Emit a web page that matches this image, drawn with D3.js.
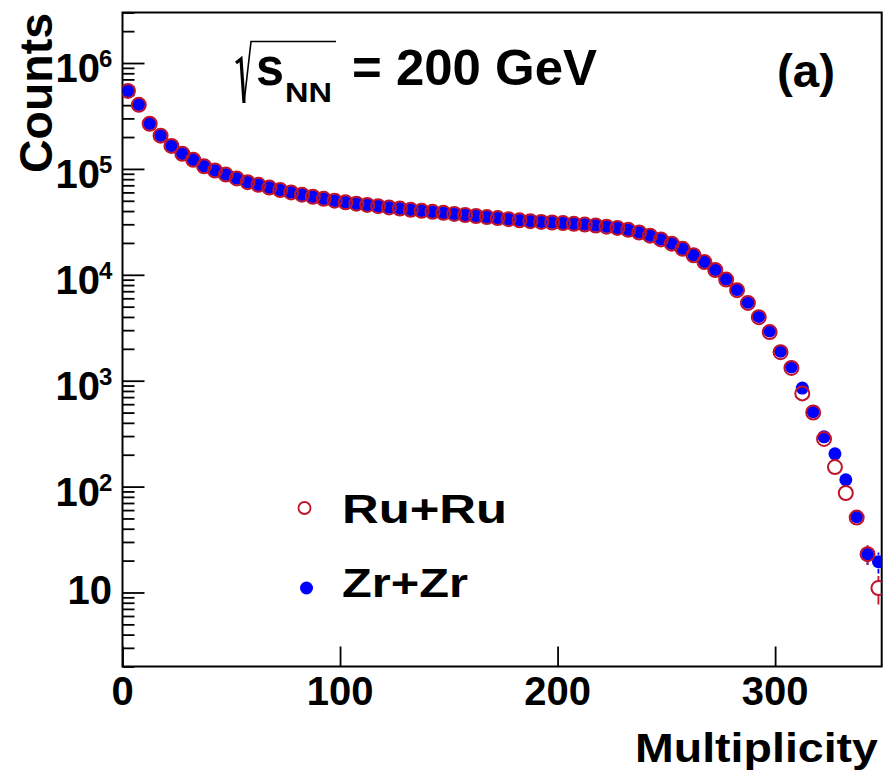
<!DOCTYPE html>
<html>
<head>
<meta charset="utf-8">
<script src="https://cdn.jsdelivr.net/npm/d3@7"></script>
<style>
  html, body { margin: 0; padding: 0; background: #fff; }
  svg { display: block; }
  text { font-family: "Liberation Sans", Arial, Helvetica, sans-serif; font-weight: bold; fill: #000; }
</style>
</head>
<body>
<svg id="chart" width="885" height="771"></svg>
<script>
// ---------------- data ----------------
const multiplicity = [
  2.5, 7.5, 12.5, 17.5, 22.5, 27.5, 32.5, 37.5, 42.5, 47.5,
  52.5, 57.5, 62.5, 67.5, 72.5, 77.5, 82.5, 87.5, 92.5, 97.5,
  102.5, 107.5, 112.5, 117.5, 122.5, 127.5, 132.5, 137.5, 142.5, 147.5,
  152.5, 157.5, 162.5, 167.5, 172.5, 177.5, 182.5, 187.5, 192.5, 197.5,
  202.5, 207.5, 212.5, 217.5, 222.5, 227.5, 232.5, 237.5, 242.5, 247.5,
  252.5, 257.5, 262.5, 267.5, 272.5, 277.5, 282.5, 287.5, 292.5, 297.5,
  302.5, 307.5, 312.5, 317.5, 322.5, 327.5, 332.5, 337.5, 342.5, 347.5
];
const ruCounts = [
  545000, 403000, 267000, 206000, 165000, 139000, 122000, 106000, 96600, 88500,
  81300, 75000, 70800, 66700, 63100, 60000, 57100, 54600, 52200, 50100,
  48400, 47000, 45700, 44500, 43300, 42200, 41100, 40200, 39300, 38500,
  37600, 36700, 35900, 35100, 34300, 33500, 32700, 32100, 31600, 31200,
  30800, 30300, 29800, 29200, 28500, 27700, 26600, 25100, 23400, 21600,
  19700, 17600, 15300, 13200, 11100, 9020, 7160, 5430, 3980, 2880,
  1860, 1320, 759, 501, 282, 153, 87, 51, 23, 11
];
const zrCounts = [
  548000, 405000, 268000, 207000, 166000, 139500, 122500, 106000, 96800, 88700,
  81500, 75100, 70900, 66800, 63200, 60100, 57200, 54700, 52300, 50200,
  48500, 47100, 45800, 44600, 43400, 42300, 41200, 40300, 39400, 38600,
  37700, 36800, 36000, 35200, 34400, 33600, 32800, 32200, 31700, 31300,
  30900, 30400, 29900, 29300, 28600, 27800, 26700, 25200, 23500, 21700,
  19800, 17700, 15400, 13300, 11200, 9100, 7250, 5500, 4050, 2950,
  1900, 1350, 851, 510, 295, 204, 116, 52, 23, 19.5
];
const xTickValues = [0, 100, 200, 300];
const xTickLabels = ["0", "100", "200", "300"];
const yMajorValues = [10, 100, 1000, 10000, 100000, 1000000];
const yMajorExponents = ["", "2", "3", "4", "5", "6"];
const legendLabels = ["Ru+Ru", "Zr+Zr"];
const energyLabel = "= 200 GeV";
const panelLabel = "(a)";

// ---------------- layout ----------------
const W = 885, H = 771;
const L = 122.5, R = 881.7, T = 12.5, B = 666.5;
const ruColor = "#c0142a";
const zrColor = "#0000ff";

const svg = d3.select("#chart");
svg.append("rect").attr("width", W).attr("height", H).attr("fill", "#fff");

const x = d3.scaleLinear().domain([0, 349]).range([L, R]);
const y = d3.scaleLog().domain([2, 3e6]).range([B, T]);

// minor tick values (2..9 x decade) within domain
const yMinorValues = [];
[1, 10, 100, 1000, 10000, 100000, 1000000].forEach(d => {
  for (let k = 2; k <= 9; k++) {
    const v = d * k;
    if (v >= 2 && v <= 3e6) yMinorValues.push(v);
  }
});

const axisStyle = g => {
  g.select(".domain").remove();
  g.selectAll(".tick line").attr("stroke", "#000").attr("stroke-width", 1.8);
};

// y axis (ticks inward)
svg.append("g").attr("transform", `translate(${L},0)`)
  .call(d3.axisLeft(y).tickValues(yMinorValues).tickSize(-12).tickFormat(""))
  .call(axisStyle);
svg.append("g").attr("transform", `translate(${L},0)`)
  .call(d3.axisLeft(y).tickValues(yMajorValues).tickSize(-22).tickFormat(""))
  .call(axisStyle);

// x axis (ticks inward)
svg.append("g").attr("transform", `translate(0,${B})`)
  .call(d3.axisBottom(x).tickValues(xTickValues).tickSize(-20).tickFormat(""))
  .call(axisStyle);

// frame
svg.append("rect")
  .attr("x", L).attr("y", T).attr("width", R - L).attr("height", B - T)
  .attr("fill", "none").attr("stroke", "#000").attr("stroke-width", 2);

// y tick labels
yMajorValues.forEach((v, i) => {
  const ty = y(v);
  const exp = yMajorExponents[i];
  if (exp === "") {
    svg.append("text").attr("x", 112).attr("y", ty + 12)
      .attr("text-anchor", "end").attr("font-size", 40).text("10");
  } else {
    svg.append("text").attr("x", 100).attr("y", ty + 19)
      .attr("text-anchor", "end").attr("font-size", 40).text("10");
    svg.append("text").attr("x", 99).attr("y", ty + 4)
      .attr("text-anchor", "start").attr("font-size", 24).text(exp);
  }
});

// x tick labels
xTickValues.forEach((v, i) => {
  svg.append("text").attr("x", x(v)).attr("y", 705)
    .attr("text-anchor", "middle").attr("font-size", 40).text(xTickLabels[i]);
});

// axis titles
svg.append("text").attr("x", 878).attr("y", 762)
  .attr("text-anchor", "end").attr("font-size", 40)
  .attr("textLength", 243).attr("lengthAdjust", "spacingAndGlyphs")
  .text("Multiplicity");
svg.append("text").attr("transform", "translate(52,13) rotate(-90)")
  .attr("text-anchor", "end").attr("font-size", 47)
  .attr("textLength", 160).attr("lengthAdjust", "spacingAndGlyphs")
  .text("Counts");

// ---------------- data markers ----------------
svg.append("clipPath").attr("id", "plotclip")
  .append("rect").attr("x", L).attr("y", T).attr("width", R - L).attr("height", B - T);
const plot = svg.append("g").attr("clip-path", "url(#plotclip)");
const rMark = 7;

function errorBars(counts, color, r) {
  plot.append("g").selectAll("path").data(multiplicity).join("path")
    .attr("d", (m, i) => {
      const c = counts[i], e = Math.sqrt(c);
      const cx = x(m), cy = y(c);
      const yUp = y(c + e), yDn = y(Math.max(c - e, 2.01));
      let d = "";
      if (yUp < cy - r) d += `M${cx},${cy - r}L${cx},${yUp}`;
      if (yDn > cy + r) d += `M${cx},${cy + r}L${cx},${yDn}`;
      return d || null;
    })
    .attr("stroke", color).attr("stroke-width", 1.8).attr("fill", "none");
}
errorBars(zrCounts, zrColor, rMark);
errorBars(ruCounts, ruColor, rMark);

plot.append("g").selectAll("circle").data(multiplicity).join("circle")
  .attr("cx", m => x(m)).attr("cy", (m, i) => y(zrCounts[i]))
  .attr("r", rMark - 0.5).attr("fill", zrColor);
plot.append("g").selectAll("circle").data(multiplicity).join("circle")
  .attr("cx", m => x(m)).attr("cy", (m, i) => y(ruCounts[i]))
  .attr("r", rMark).attr("fill", "none").attr("stroke", ruColor).attr("stroke-width", 2);

// ---------------- legend ----------------
svg.append("circle").attr("cx", 304.5).attr("cy", 508).attr("r", 6)
  .attr("fill", "none").attr("stroke", ruColor).attr("stroke-width", 1.8);
svg.append("circle").attr("cx", 306.5).attr("cy", 588).attr("r", 6.5)
  .attr("fill", zrColor);
svg.append("text").attr("x", 342).attr("y", 523).attr("font-size", 40)
  .attr("textLength", 165).attr("lengthAdjust", "spacingAndGlyphs").text(legendLabels[0]);
svg.append("text").attr("x", 342).attr("y", 597).attr("font-size", 40)
  .attr("textLength", 126).attr("lengthAdjust", "spacingAndGlyphs").text(legendLabels[1]);

// ---------------- title: sqrt(s_NN) = 200 GeV ----------------
svg.append("path").attr("d", "M236,63 L241,59 L244,103")
  .attr("fill", "none").attr("stroke", "#000").attr("stroke-width", 3.2)
  .attr("stroke-linejoin", "miter");
svg.append("path").attr("d", "M244,103 L251,41.5 L336,41.5")
  .attr("fill", "none").attr("stroke", "#000").attr("stroke-width", 1.6);
svg.append("text").attr("x", 256).attr("y", 85).attr("font-size", 54)
  .attr("textLength", 28).attr("lengthAdjust", "spacingAndGlyphs").text("s");
svg.append("text").attr("x", 285).attr("y", 102).attr("font-size", 28)
  .attr("textLength", 47).attr("lengthAdjust", "spacingAndGlyphs").text("NN");
svg.append("text").attr("x", 352).attr("y", 85).attr("font-size", 50)
  .attr("textLength", 245).attr("lengthAdjust", "spacingAndGlyphs").text(energyLabel);

svg.append("text").attr("x", 777).attr("y", 87).attr("font-size", 46)
  .attr("textLength", 58).attr("lengthAdjust", "spacingAndGlyphs").text(panelLabel);
</script>
</body>
</html>
